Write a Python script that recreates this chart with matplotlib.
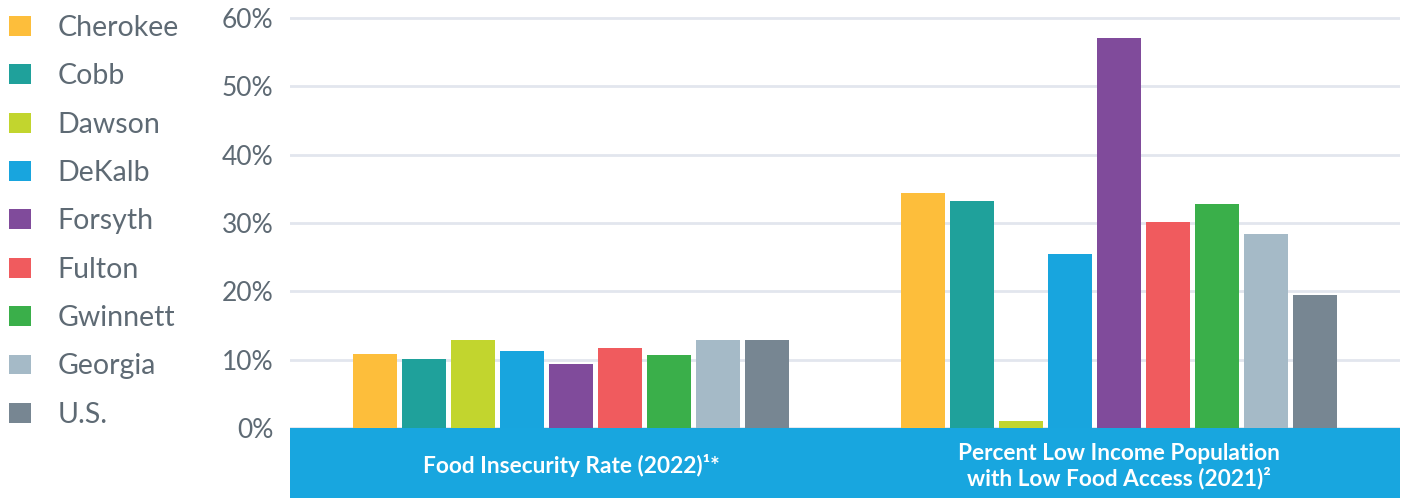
import matplotlib
matplotlib.use("Agg")
import matplotlib.pyplot as plt
from matplotlib.patches import Patch
import numpy as np

plt.rcParams['font.family'] = ['Lato', 'DejaVu Sans']

series = ["Cherokee", "Cobb", "Dawson", "DeKalb", "Forsyth", "Fulton", "Gwinnett", "Georgia", "U.S."]
colors = ["#FDBE3B", "#1FA19B", "#C2D52E", "#18A5DE", "#804B9B", "#F05B5E", "#3AAF4A", "#A5BAC7", "#778692"]
categories = ["Food Insecurity Rate (2022)\u00b9*", "Percent Low Income Population\nwith Low Food Access (2021)\u00b2"]
food_insecurity = [10.9, 10.1, 12.9, 11.3, 9.4, 11.7, 10.7, 12.9, 12.9]
low_access = [34.4, 33.2, 1.0, 25.5, 57.1, 30.2, 32.8, 28.4, 19.5]
yticks = [0, 10, 20, 30, 40, 50, 60]
ytick_labels = ["0%", "10%", "20%", "30%", "40%", "50%", "60%"]

W, H = 1403, 498
fig = plt.figure(figsize=(W / 100, H / 100), dpi=100)

left, right = 290, 1400
ax = fig.add_axes([left / W, (H - 428) / H, (right - left) / W, (428 - 16) / H])
xlim = (-0.513, 1.512)
values = np.array([food_insecurity, low_access])
x = np.arange(len(categories))
pitch = 0.0894
bw = 0.080
for i, (s, c) in enumerate(zip(series, colors)):
    ax.bar(x + (i - 4) * pitch, values[:, i], width=bw, color=c, label=s, zorder=3)
ax.set_xlim(*xlim)
ax.set_ylim(0, 60.3)
ax.set_yticks(yticks)
ax.set_yticklabels(ytick_labels)
ax.set_xticks([])
ax.grid(axis='y', color="#E2E6EE", linewidth=2, zorder=0)
ax.set_axisbelow(True)
for sp in ax.spines.values():
    sp.set_visible(False)
ax.tick_params(axis='y', length=0, pad=12, labelsize=19, labelcolor="#5E6A74")

band = fig.add_axes([left / W, 0, (right - left) / W, 70 / H])
band.set_facecolor("#18A6DF")
band.set_xlim(*xlim)
band.set_ylim(0, 1)
band.set_xticks([])
band.set_yticks([])
for sp in band.spines.values():
    sp.set_visible(False)
for xi, cat in zip(x, categories):
    band.text(xi, 0.46, cat, ha='center', va='center', color='white',
              fontsize=16.3, fontweight='bold', linespacing=1.15)

handles = [Patch(facecolor=c, edgecolor='none') for c in colors]
fig.legend(handles, series, loc='upper left', bbox_to_anchor=(9 / W, 1 - 15 / H),
           frameon=False, fontsize=20.5, labelcolor="#5E6A74",
           handlelength=0.77, handleheight=0.7, handletextpad=0.93,
           labelspacing=0.785, borderpad=0, borderaxespad=0)

fig.savefig("out.png", dpi=100)
